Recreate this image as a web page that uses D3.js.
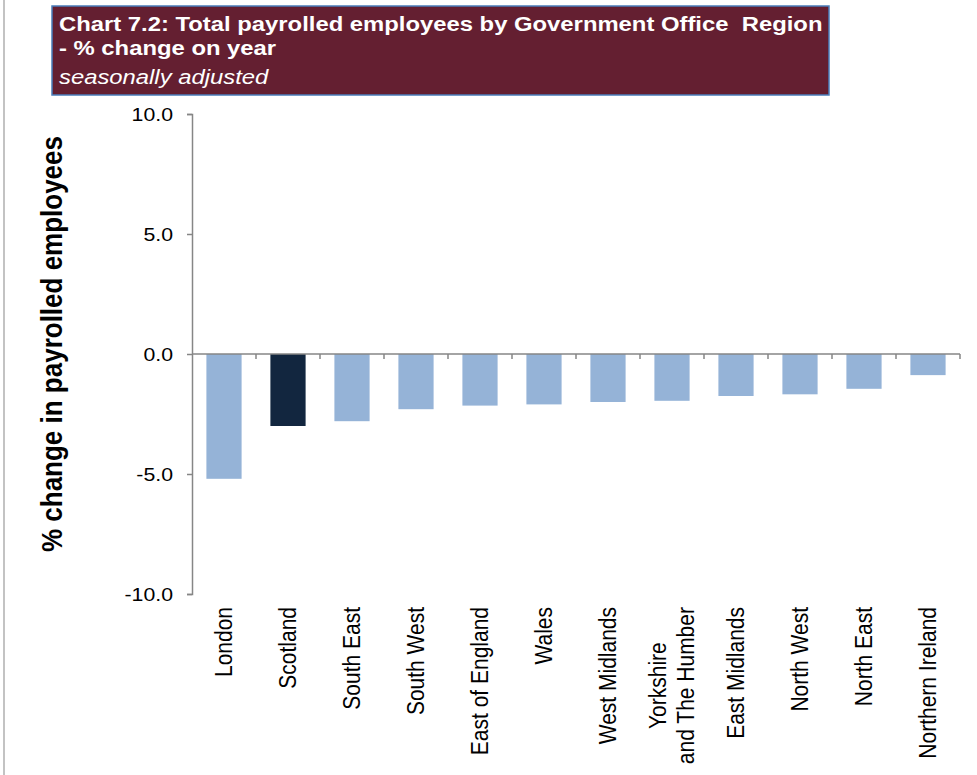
<!DOCTYPE html>
<html>
<head>
<meta charset="utf-8">
<script src="https://cdn.jsdelivr.net/npm/d3@7"></script>
<style>
  html, body { margin: 0; padding: 0; background: #fff; }
  svg { display: block; }
  text { font-family: "Liberation Sans", Arial, sans-serif; }
</style>
</head>
<body>
<svg id="chart" width="977" height="775"></svg>
<script>
// Regions, ordered as shown
const regions = [
  "London", "Scotland", "South East", "South West", "East of England", "Wales",
  "West Midlands", "Yorkshire\nand The Humber", "East Midlands", "North West",
  "North East", "Northern Ireland"
];
// % change on year in payrolled employees
const pctChange = [-5.2, -3.0, -2.8, -2.3, -2.15, -2.1, -2.0, -1.95, -1.75, -1.68, -1.45, -0.88];
const highlighted = ["Scotland"];
const yTicks = [-10, -5, 0, 5, 10];
const yDomain = [-10, 10];

const titleLines = [
  "Chart 7.2: Total payrolled employees by Government Office  Region",
  "- % change on year"
];
const subtitle = "seasonally adjusted";
const yAxisTitle = "% change in payrolled employees";

// all lettering is set slightly wide
const hs = 1.12;
const hsTitle = 1.135;

const svg = d3.select("#chart");
const margin = { left: 192, right: 17, top: 114, bottom: 181 };
const W = 977, H = 775;

// left frame edge
svg.append("line")
  .attr("x1", 4).attr("x2", 4).attr("y1", 0).attr("y2", H)
  .attr("stroke", "#c3c3c3").attr("stroke-width", 2);

// title panel
const tb = svg.append("g");
tb.append("rect")
  .attr("x", 52).attr("y", 6).attr("width", 777).attr("height", 89)
  .attr("fill", "#641F31").attr("stroke", "#4A7EBB").attr("stroke-width", 1.5);
tb.selectAll("text.t").data(titleLines).join("text")
  .attr("class", "t")
  .attr("transform", (d, i) => `translate(59,${31 + i * 24}) scale(${hsTitle},1)`)
  .attr("fill", "#fff").attr("font-size", 21).attr("font-weight", "bold")
  .style("white-space", "pre")
  .text(d => d);
tb.append("text")
  .attr("transform", `translate(59,84) scale(${hsTitle},1)`)
  .attr("fill", "#fff").attr("font-size", 21).attr("font-style", "italic")
  .text(subtitle);

const x = d3.scaleBand().domain(regions).range([margin.left, W - margin.right]).padding(0);
const y = d3.scaleLinear().domain(yDomain).range([H - margin.bottom, margin.top]);

const locale = d3.formatLocale({ decimal: ".", thousands: ",", grouping: [3], currency: ["", ""], minus: "-" });
const fmt = locale.format(".1f");

// y axis
const yAxis = svg.append("g")
  .attr("transform", `translate(${margin.left},0)`)
  .call(d3.axisLeft(y).tickValues(yTicks).tickFormat(fmt).tickSize(5).tickPadding(0));
yAxis.select(".domain").attr("stroke", "#868686").attr("stroke-width", 1.5);
yAxis.selectAll(".tick line").attr("stroke", "#868686").attr("stroke-width", 1.5);
yAxis.selectAll(".tick text")
  .attr("x", null)
  .attr("transform", `translate(-19,0) scale(${hs},1)`)
  .attr("font-family", "'Liberation Sans', Arial, sans-serif")
  .attr("font-size", 19).attr("fill", "#000");

// bars
const barW = x.bandwidth() * 0.55;
svg.append("g").selectAll("rect").data(regions).join("rect")
  .attr("x", d => x(d) + (x.bandwidth() - barW) / 2)
  .attr("width", barW)
  .attr("y", (d, i) => y(Math.max(0, pctChange[i])))
  .attr("height", (d, i) => Math.abs(y(pctChange[i]) - y(0)))
  .attr("fill", d => highlighted.includes(d) ? "#12263F" : "#95B3D7");

// x axis at zero with category boundary ticks
const xAxisG = svg.append("g").attr("transform", `translate(0,${y(0)})`);
xAxisG.append("line")
  .attr("x1", margin.left).attr("x2", W - margin.right)
  .attr("stroke", "#868686").attr("stroke-width", 1.5);
xAxisG.selectAll("line.tk").data(regions).join("line")
  .attr("class", "tk")
  .attr("x1", d => x(d) + x.bandwidth()).attr("x2", d => x(d) + x.bandwidth())
  .attr("y1", 0).attr("y2", 5)
  .attr("stroke", "#868686").attr("stroke-width", 1.5);

// category labels, rotated, top aligned below plot
const labelTop = H - margin.bottom + 13;
const lab = svg.append("g").selectAll("text").data(regions).join("text")
  .attr("font-size", 21).attr("fill", "#000");
lab.each(function(d) {
  const lines = d.split("\n");
  const t = d3.select(this);
  if (lines.length === 1) {
    t.attr("text-anchor", "end").append("tspan").attr("x", 0).attr("dy", "0.35em").text(d);
  } else {
    // multi-line label: lines centred on each other, block aligned to the top
    t.attr("text-anchor", "middle");
    lines.forEach((ln, i) => {
      t.append("tspan").attr("x", 0)
        .attr("dy", i === 0 ? `${0.35 - 0.6}em` : "1.2em")
        .text(ln);
    });
  }
});
lab.each(function(d) {
  const t = d3.select(this);
  let shift = 0;
  if (d.includes("\n")) {
    const bb = this.getBBox();
    shift = -(bb.x + bb.width);
  }
  t.attr("transform",
    `translate(${x(d) + x.bandwidth() / 2},${labelTop}) scale(${hs},1) rotate(-90) translate(${shift},0)`);
});

// y axis title
svg.append("text")
  .attr("transform", `translate(52,344) scale(${hs},1) rotate(-90)`)
  .attr("text-anchor", "middle").attr("dy", "0.35em")
  .attr("font-family", "Lato, 'Open Sans', sans-serif")
  .attr("font-weight", "bold").attr("font-size", 26).attr("fill", "#000")
  .text(yAxisTitle);
</script>
</body>
</html>
